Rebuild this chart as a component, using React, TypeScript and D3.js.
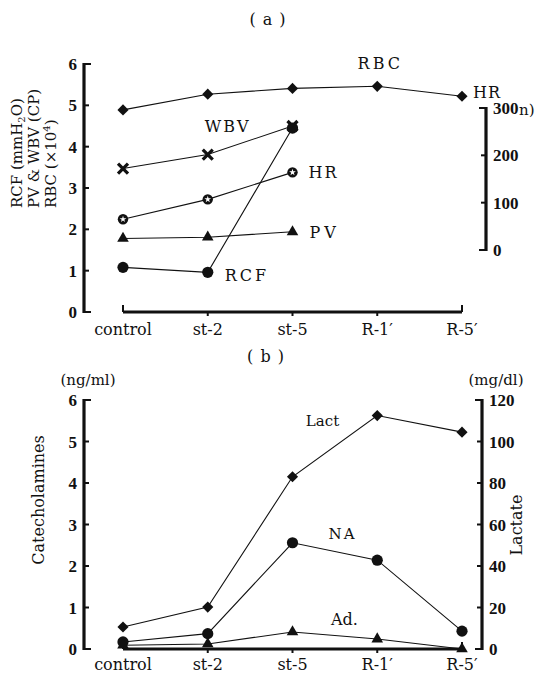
import React, { useEffect, useRef } from "react";
import * as d3 from "d3";

// stages on the x axis
const categories = ["control", "st-2", "st-5", "R-1′", "R-5′"];

// (a) haemodynamics
const rbc = [4.89, 5.27, 5.41, 5.46, 5.22];
const wbv = [3.47, 3.81, 4.5];
const hr = [65, 107, 164];
const pv = [1.78, 1.81, 1.94];
const rcf = [1.08, 0.96, 4.45];

// (b) catecholamines (ng/ml) and lactate (mg/dl)
const lact = [10.6, 20.2, 83, 112.5, 104.5];
const na = [0.17, 0.37, 2.56, 2.14, 0.43];
const ad = [0.09, 0.12, 0.41, 0.24, 0.0];

// tick labels
const leftTicks = [0, 1, 2, 3, 4, 5, 6];
const hrTicks = [0, 100, 200, 300];
const lactTicks = [0, 20, 40, 60, 80, 100, 120];

const W = 537;
const H = 680;
const FONT = "'DejaVu Serif', serif";
const NUM_FONT = "'Liberation Serif', serif";

export default function App() {
  const ref = useRef<SVGSVGElement>(null);

  useEffect(() => {
    document.body.style.margin = "0";
    const svg = d3.select(ref.current);
    svg.selectAll("*").remove();
    svg.attr("font-family", FONT).attr("fill", "#111");

    const x = d3.scalePoint<string>().domain(categories).range([123, 462]);
    const yA = d3.scaleLinear().domain([0, 6]).range([312, 64]);
    const yHR = d3.scaleLinear().domain([0, 300]).range([250, 108]);
    const yB = d3.scaleLinear().domain([0, 6]).range([649, 400]);
    const yLact = d3.scaleLinear().domain([0, 120]).range([649, 400]);

    const vAxis = (scale, ticks, x0, dir, fmt = (d) => String(d)) => {
      const g = svg.append("g");
      const [lo, hi] = d3.extent(ticks);
      g.append("line")
        .attr("x1", x0).attr("x2", x0)
        .attr("y1", scale(lo) + 1).attr("y2", scale(hi) - 1)
        .attr("stroke", "#111").attr("stroke-width", 3.2);
      g.selectAll("line.t").data(ticks).enter().append("line")
        .attr("class", "t")
        .attr("x1", x0).attr("x2", (d, i) => x0 + dir * (i === 0 || i === ticks.length - 1 ? 7 : 5))
        .attr("y1", (d) => scale(d)).attr("y2", (d) => scale(d))
        .attr("stroke", "#111").attr("stroke-width", 2);
      g.selectAll("text").data(ticks).enter().append("text")
        .attr("x", x0 - dir * 7)
        .attr("y", (d) => scale(d) + 6)
        .attr("text-anchor", dir > 0 ? "end" : "start")
        .attr("font-family", NUM_FONT)
        .attr("font-weight", "bold")
        .style("font-size", "17px")
        .text(fmt);
    };

    const xAxis = (y0, labelDy) => {
      const g = svg.append("g");
      g.append("line")
        .attr("x1", x(categories[0])).attr("x2", x(categories[categories.length - 1]))
        .attr("y1", y0).attr("y2", y0)
        .attr("stroke", "#111").attr("stroke-width", 3.2);
      g.selectAll("line.t").data(categories).enter().append("line")
        .attr("class", "t")
        .attr("x1", (d) => x(d)).attr("x2", (d) => x(d))
        .attr("y1", y0)
        .attr("y2", (d, i) => (i === 0 || i === categories.length - 1 ? y0 - 7 : y0 + 4))
        .attr("stroke", "#111").attr("stroke-width", 2);
      g.selectAll("text").data(categories).enter().append("text")
        .attr("x", (d) => x(d))
        .attr("y", y0 + labelDy)
        .attr("text-anchor", "middle")
        .style("font-size", "16px")
        .text((d) => d);
    };

    const series = (vals, yScale, marker) => {
      const g = svg.append("g");
      const line = d3.line<number>()
        .x((d, i) => x(categories[i]))
        .y((d) => yScale(d));
      g.append("path").datum(vals)
        .attr("d", line)
        .attr("fill", "none").attr("stroke", "#111").attr("stroke-width", 1.1);
      const pts = g.selectAll("g.m").data(vals).enter().append("g")
        .attr("transform", (d, i) => `translate(${x(categories[i])},${yScale(d)})`);
      if (marker === "diamond") {
        pts.append("path")
          .attr("d", d3.symbol(d3.symbolSquare, 62)())
          .attr("transform", "rotate(45)")
          .attr("fill", "#111");
      } else if (marker === "circle") {
        pts.append("circle").attr("r", 5.6).attr("fill", "#111");
      } else if (marker === "triangle") {
        pts.append("path")
          .attr("d", d3.symbol(d3.symbolTriangle, 58)())
          .attr("fill", "#111");
      } else if (marker === "cross") {
        pts.append("path")
          .attr("d", "M-5,-5L5,5M-5,5L5,-5")
          .attr("stroke", "#111").attr("stroke-width", 3.2).attr("fill", "none");
      } else if (marker === "star") {
        pts.append("circle").attr("r", 5.2).attr("fill", "#111");
        pts.append("path")
          .attr("d", d3.symbol(d3.symbolStar, 14)())
          .attr("fill", "#fff");
      }
    };

    const label = (t, lx, ly, size = 16, spacing = 2, anchor = "start") =>
      svg.append("text")
        .attr("x", lx).attr("y", ly)
        .attr("text-anchor", anchor)
        .style("font-size", `${size}px`)
        .style("letter-spacing", `${spacing}px`)
        .text(t);

    // ---------- (a) ----------
    label("( a )", 268, 25, 16, 1, "middle");
    vAxis(yA, leftTicks, 84, 1);
    vAxis(yHR, hrTicks, 486, -1);
    label("n)", 519, yHR(300) + 7, 15, 0);
    xAxis(312, 23);

    series(rbc, yA, "diamond");
    series(wbv, yA, "cross");
    series(hr, yHR, "star");
    series(pv, yA, "triangle");
    series(rcf, yA, "circle");

    label("RBC", x(categories[3]) + 3, yA(rbc[3]) - 17, 16, 3, "middle");
    label("HR", x(categories[4]) + 11, yA(rbc[4]) + 2, 16, 1);
    label("WBV", x(categories[1]) - 3, yA(wbv[1]) - 23, 16, 2);
    label("HR", x(categories[2]) + 16, yHR(hr[2]) + 6, 16, 2);
    label("PV", x(categories[2]) + 17, yA(pv[2]) + 6, 16, 4);
    label("RCF", x(categories[1]) + 17, yA(rcf[1]) + 9, 16, 3);

    const titleA = svg.append("text")
      .attr("transform", "translate(0,208) rotate(-90)")
      .attr("text-anchor", "start")
      .style("font-size", "15px");
    titleA.append("tspan").attr("x", 0).attr("y", 22).text("RCF (mmH");
    titleA.append("tspan").style("font-size", "10px").attr("dy", 3).text("2");
    titleA.append("tspan").attr("dy", -3).text("O)");
    titleA.append("tspan").attr("x", 0).attr("y", 39).text("PV & WBV (CP)");
    titleA.append("tspan").attr("x", 0).attr("y", 56).text("RBC (×10");
    titleA.append("tspan").style("font-size", "10px").attr("dy", -6).text("4");
    titleA.append("tspan").attr("dy", 6).text(")");

    // ---------- (b) ----------
    label("( b )", 266, 362, 16, 1, "middle");
    label("(ng/ml)", 88, 385, 15, 0, "middle");
    label("(mg/dl)", 496, 385, 15, 0, "middle");
    vAxis(yB, leftTicks, 84, 1);
    vAxis(yLact, lactTicks, 482, -1);
    xAxis(649, 21);

    series(lact, yLact, "diamond");
    series(na, yB, "circle");
    series(ad, yB, "triangle");

    label("Lact", x(categories[2]) + 30, 426, 15, 0, "middle");
    label("NA", x(categories[2]) + 50, yB(2.78) + 5, 15, 2, "middle");
    label("Ad.", x(categories[2]) + 52, yB(0.7) + 5, 16, 0, "middle");

    svg.append("text")
      .attr("transform", "translate(44,500) rotate(-90)")
      .attr("text-anchor", "middle")
      .style("font-size", "16px")
      .text("Catecholamines");
    svg.append("text")
      .attr("transform", "translate(522,525) rotate(-90)")
      .attr("text-anchor", "middle")
      .style("font-size", "16px")
      .text("Lactate");
  }, []);

  return <svg ref={ref} width={W} height={H} style={{ display: "block", background: "#fff" }} />;
}
